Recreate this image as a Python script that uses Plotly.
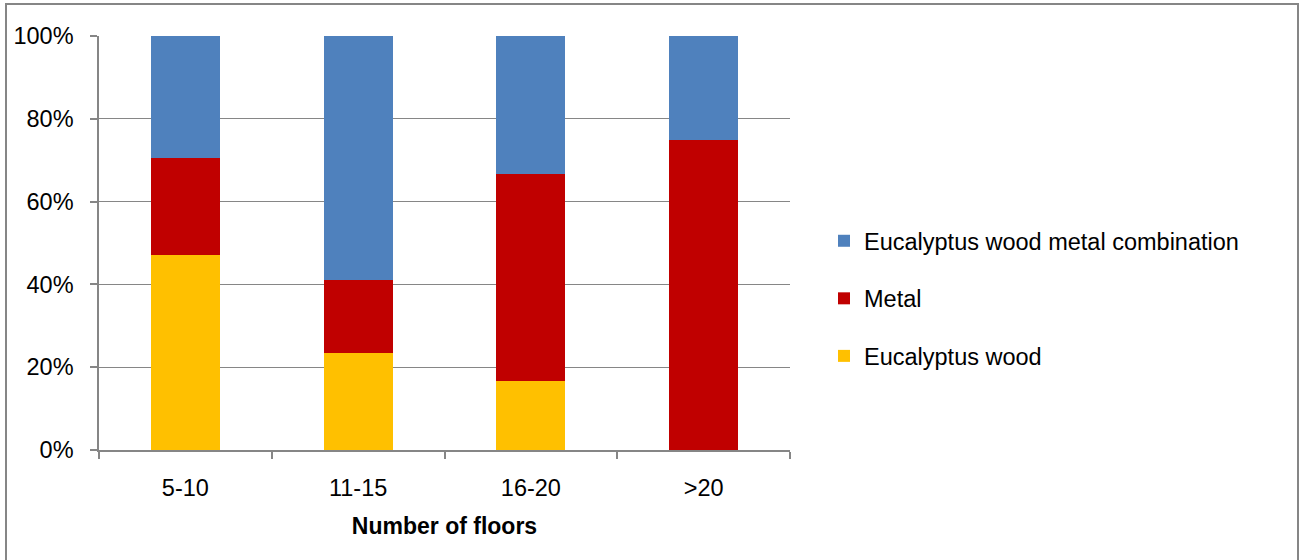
import plotly.graph_objects as go

# Share of structural material by building height
floors = ["5-10", "11-15", "16-20", ">20"]
eucalyptus_wood = [47.1, 23.5, 16.7, 0.0]
metal = [23.5, 17.6, 50.0, 75.0]
combination = [29.4, 58.8, 33.3, 25.0]

series_names = ["Eucalyptus wood", "Metal", "Eucalyptus wood metal combination"]
series_values = [eucalyptus_wood, metal, combination]
series_colors = ["#FFC000", "#C00000", "#4F81BD"]
legend_ranks = [3, 2, 1]

y_ticks = [0, 20, 40, 60, 80, 100]

FONT = "Liberation Sans"
GRAY = "#868686"
FS = 23.5

fig = go.Figure()
for name, vals, color, rank in zip(series_names, series_values, series_colors, legend_ranks):
    fig.add_trace(go.Bar(
        x=floors, y=vals, name=name, legendgroup=name, legendrank=rank,
        marker=dict(color=color, line=dict(width=0)),
    ))

# plot area in pixels: x 99..790, y 36..450
L, R, T, B = 99, 510, 36, 110
W, H = 1300, 560
pw, ph = W - L - R, H - T - B

def px_x(px):
    return (px - L) / pw

def px_y(py):
    return (H - B - py) / ph

fig.update_layout(
    width=W, height=H,
    margin=dict(l=L, r=R, t=T, b=B),
    barmode="stack", bargap=0.6,
    paper_bgcolor="white", plot_bgcolor="white",
    font=dict(family=FONT, size=FS, color="#000000"),
    showlegend=True,
    legend=dict(
        traceorder="grouped", tracegroupgap=24,
        x=px_x(824), y=px_y(219), xanchor="left", yanchor="top",
        font=dict(size=FS), itemwidth=30,
        bgcolor="rgba(0,0,0,0)",
    ),
    xaxis=dict(
        showline=True, linecolor=GRAY, linewidth=1.5,
        ticks="outside", tickson="boundaries", ticklen=7, tickcolor=GRAY, tickwidth=1.5,
        showgrid=False, ticklabelstandoff=16,
        title=dict(text="<b>Number of floors</b>", font=dict(size=23), standoff=18),
        tickfont=dict(size=FS),
    ),
    yaxis=dict(
        range=[0, 100], tickvals=y_ticks, ticktext=[f"{v}%" for v in y_ticks],
        showline=True, linecolor=GRAY, linewidth=1.5,
        ticks="outside", ticklen=7, tickcolor=GRAY, tickwidth=1.5,
        showgrid=True, gridcolor=GRAY, gridwidth=1,
        zeroline=False, tickfont=dict(size=FS), ticklabelstandoff=12,
    ),
    shapes=[dict(
        type="rect", xref="paper", yref="paper",
        x0=px_x(6), x1=px_x(1298), y0=px_y(4), y1=px_y(562),
        line=dict(color=GRAY, width=2), fillcolor="rgba(0,0,0,0)", layer="below",
    )],
)

fig.write_html("out.html")
